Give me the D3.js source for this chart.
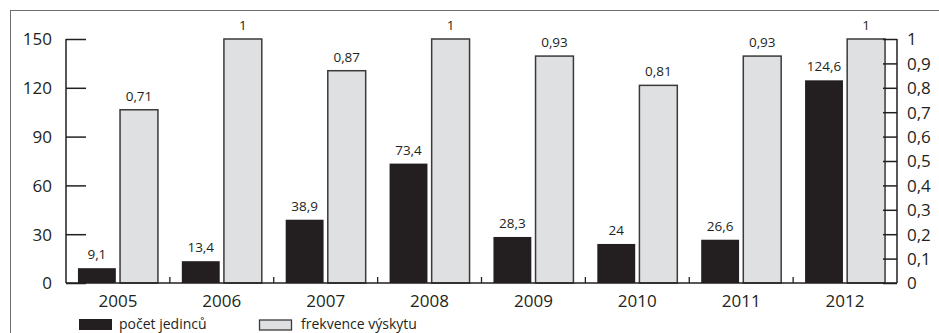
<!DOCTYPE html>
<html>
<head>
<meta charset="utf-8">
<script src="https://cdn.jsdelivr.net/npm/d3@7"></script>
<style>
  html, body { margin: 0; padding: 0; background: #fff; }
  svg { display: block; font-family: "Open Sans", "Noto Sans", sans-serif; }
</style>
</head>
<body>
<svg id="chart" width="939" height="333"></svg>
<script>
const years = ["2005", "2006", "2007", "2008", "2009", "2010", "2011", "2012"];
const pocetJedincu = [9.1, 13.4, 38.9, 73.4, 28.3, 24, 26.6, 124.6];
const frekvenceVyskytu = [0.71, 1, 0.87, 1, 0.93, 0.81, 0.93, 1];
const leftTicks = [0, 30, 60, 90, 120, 150];
const rightTicks = [0, 0.1, 0.2, 0.3, 0.4, 0.5, 0.6, 0.7, 0.8, 0.9, 1];
const seriesNames = ["počet jedinců", "frekvence výskytu"];

const ink = "#231f20";
const grey = "#dfe0e1";
const fmt = v => String(v).replace(".", ",");

const svg = d3.select("#chart");

// frame (cut off at right and bottom)
svg.append("rect").attr("x", 10.5).attr("y", 10.5).attr("width", 940).attr("height", 340)
  .attr("fill", "none").attr("stroke", "#6d6e70").attr("stroke-width", 1);

const pLeft = 66, pRight = 897, pTop = 39, pBottom = 283;

const x0 = d3.scaleBand().domain(years).range([pLeft, pRight]).paddingInner(0.23).paddingOuter(0.115);
const x1 = d3.scaleBand().domain([0, 1]).range([0, x0.bandwidth()]).paddingInner(0.1);
const yL = d3.scaleLinear().domain([0, 150]).range([pBottom, pTop]);
const yR = d3.scaleLinear().domain([0, 1]).range([pBottom, pTop]);
const step = x0.step();

// bars
const g = svg.append("g");
years.forEach((yr, i) => {
  const bx = x0(yr);
  g.append("rect")
    .attr("x", bx + x1(0)).attr("y", yL(pocetJedincu[i]))
    .attr("width", x1.bandwidth()).attr("height", pBottom - yL(pocetJedincu[i]))
    .attr("fill", ink);
  g.append("rect")
    .attr("x", bx + x1(1)).attr("y", yR(frekvenceVyskytu[i]))
    .attr("width", x1.bandwidth()).attr("height", pBottom - yR(frekvenceVyskytu[i]))
    .attr("fill", grey).attr("stroke", "#3a3a3c").attr("stroke-width", 1.5);
  g.append("text")
    .attr("x", bx + x1(0) + x1.bandwidth() / 2).attr("y", yL(pocetJedincu[i]) - 9)
    .attr("text-anchor", "middle").attr("font-size", 13.5).attr("fill", ink)
    .text(fmt(pocetJedincu[i]));
  g.append("text")
    .attr("x", bx + x1(1) + x1.bandwidth() / 2).attr("y", yR(frekvenceVyskytu[i]) - 9)
    .attr("text-anchor", "middle").attr("font-size", 13.5).attr("fill", ink)
    .text(fmt(frekvenceVyskytu[i]));
});

// left axis (ticks inward)
const axL = svg.append("g").attr("transform", `translate(${pLeft},0)`)
  .call(d3.axisRight(yL).tickValues(leftTicks).tickSize(20).tickFormat(""));
axL.select(".domain").remove();
axL.selectAll("line").attr("stroke", ink).attr("stroke-width", 1.5);
svg.append("line").attr("x1", pLeft).attr("x2", pLeft).attr("y1", pTop).attr("y2", pBottom)
  .attr("stroke", ink).attr("stroke-width", 1.5);
svg.append("g").selectAll("text").data(leftTicks).join("text")
  .attr("x", 52).attr("y", d => yL(d)).attr("dy", "0.38em")
  .attr("text-anchor", "end").attr("font-size", 17).attr("fill", ink)
  .text(d => d);

// right axis (ticks inward)
const axR = svg.append("g").attr("transform", `translate(${pRight},0)`)
  .call(d3.axisLeft(yR).tickValues(rightTicks).tickSize(14).tickFormat(""));
axR.select(".domain").remove();
axR.selectAll("line").attr("stroke", ink).attr("stroke-width", 1.5);
svg.append("line").attr("x1", pRight).attr("x2", pRight).attr("y1", pTop).attr("y2", pBottom)
  .attr("stroke", ink).attr("stroke-width", 1.5);
svg.append("g").selectAll("text").data(rightTicks).join("text")
  .attr("x", 907).attr("y", d => yR(d)).attr("dy", "0.38em")
  .attr("text-anchor", "start").attr("font-size", 17).attr("fill", ink)
  .text(d => fmt(d));

// bottom baseline with small boundary ticks
svg.append("line").attr("x1", pLeft).attr("x2", pRight).attr("y1", pBottom).attr("y2", pBottom)
  .attr("stroke", ink).attr("stroke-width", 1.5);
svg.append("g").selectAll("line").data(years.slice(1)).join("line")
  .attr("x1", d => x0(d) - x0.paddingInner() * step / 2)
  .attr("x2", d => x0(d) - x0.paddingInner() * step / 2)
  .attr("y1", pBottom).attr("y2", pBottom - 6)
  .attr("stroke", ink).attr("stroke-width", 1.3);
svg.append("g").selectAll("text").data(years).join("text")
  .attr("x", d => x0(d) + x0.bandwidth() / 2).attr("y", 307)
  .attr("text-anchor", "middle").attr("font-size", 17).attr("fill", ink)
  .text(d => d);

// legend
const legend = svg.append("g");
legend.append("rect").attr("x", 79).attr("y", 319).attr("width", 33).attr("height", 11).attr("fill", ink);
legend.append("text").attr("x", 119).attr("y", 329).attr("font-size", 14).attr("fill", ink).text(seriesNames[0]);
legend.append("rect").attr("x", 259.5).attr("y", 320).attr("width", 32).attr("height", 10)
  .attr("fill", grey).attr("stroke", "#3a3a3c").attr("stroke-width", 1.3);
legend.append("text").attr("x", 301).attr("y", 329).attr("font-size", 14).attr("fill", ink).text(seriesNames[1]);
</script>
</body>
</html>
